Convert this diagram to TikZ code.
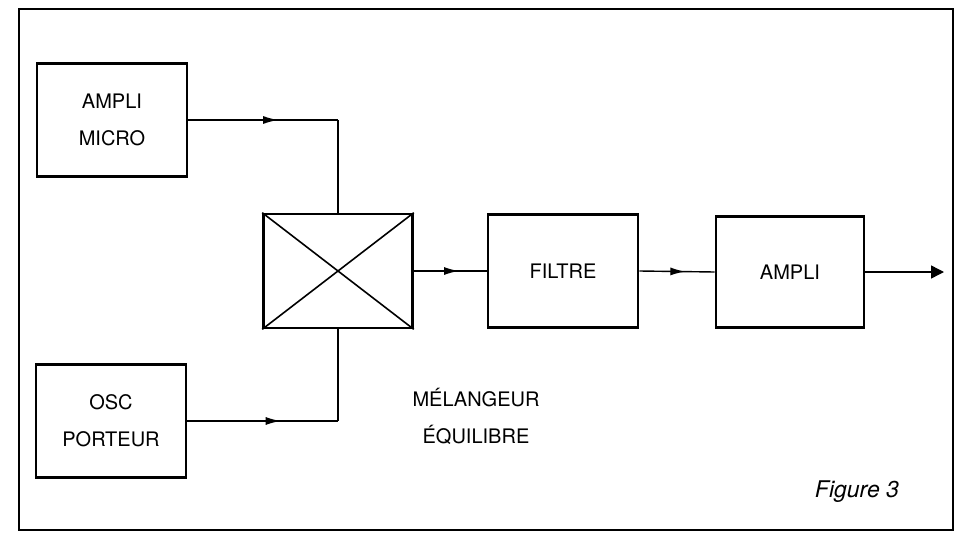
\documentclass[tikz,border=0pt]{standalone}
\usepackage{fontspec}
\setmainfont{TeX Gyre Heros}
\usetikzlibrary{arrows.meta,decorations.markings}

\begin{document}
\begin{tikzpicture}[x=1pt,y=-1pt,
  bloc/.style={draw,line width=2.6pt,minimum width=150pt,minimum height=113pt,
    align=center,font=\fontsize{20}{37}\selectfont},
  fil/.style={line width=1.4pt},
  midarrow/.style={fil,postaction={decorate},decoration={markings,
    mark=at position #1 with {\arrow{Latex[length=15pt,width=8pt]}}}}]
  \useasboundingbox (0,0) rectangle (959,533);
  \draw[line width=2.6pt] (19,9) rectangle (953,530);
  \node[bloc] (micro) at (112,120) {AMPLI\\MICRO};
  \node[bloc] (osc) at (111,421) {OSC\\PORTEUR};
  \node[bloc,minimum width=149pt,minimum height=114pt] (mix) at (338,271) {};
  \node[bloc] (filtre) at (563,271) {FILTRE};
  \node[bloc,minimum width=148pt,minimum height=111pt] (ampli) at (790,272) {AMPLI};
  \node[font=\fontsize{20}{37}\selectfont,align=center] (melange) at (476,416)
    {MÉLANGEUR\\ÉQUILIBRE};
  \node[font=\fontsize{23}{28}\selectfont\itshape] (fig) at (857,492) {Figure 3};
  \draw[line width=1.6pt] (mix.north west) -- (mix.south east)
    (mix.south west) -- (mix.north east);
  \coordinate (inA) at (mix.north |- micro.east);
  \coordinate (inB) at (mix.south |- osc.east);
  \coordinate (sortie) at (944,272);
  \draw[midarrow=0.6] (micro.east) -- (inA);
  \draw[fil] (inA) -- (mix.north);
  \draw[midarrow=0.62] (osc.east) -- (inB);
  \draw[fil] (inB) -- (mix.south);
  \draw[midarrow=0.62] (mix.east) -- (filtre.west);
  \draw[midarrow=0.61] (filtre.east) -- (ampli.west);
  \draw[fil,-{Triangle[length=13pt,width=13pt]}] (ampli.east) -- (sortie);
\end{tikzpicture}
\end{document}
